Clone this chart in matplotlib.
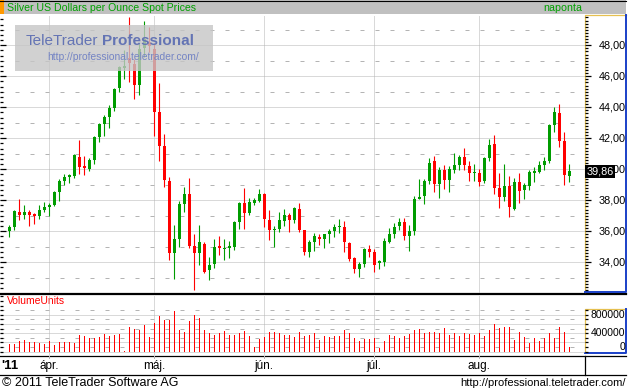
import matplotlib
matplotlib.use("Agg")
import matplotlib.pyplot as plt
import matplotlib.transforms as mtrans
from matplotlib.patches import Rectangle
from matplotlib.ticker import MultipleLocator
import pandas as pd

plt.rcParams["font.family"] = ["Liberation Sans", "DejaVu Sans"]
plt.rcParams["lines.scale_dashes"] = False

# Silver spot, daily candles 22 Mar - 25 Aug 2011
dates = pd.bdate_range("2011-03-22", "2011-08-25")

opens = [36.02, 36.30, 37.25, 37.05, 37.25, 37.07, 36.99, 37.40, 37.59, 37.70,
         38.56, 39.27, 39.53, 39.57, 40.80, 40.22, 40.04, 40.60, 42.09, 42.95,
         43.40, 43.98, 45.25, 46.54, 47.16, 46.80, 45.44, 47.81, 48.20, 47.76,
         43.72, 41.51, 39.25, 34.62, 35.51, 37.76, 38.41, 35.05, 34.62, 35.18,
         33.51, 33.89, 35.01, 34.86, 34.95, 35.01, 36.62, 37.81, 37.20, 37.81,
         37.96, 38.41, 36.73, 36.09, 36.15, 36.69, 37.05, 36.73, 37.44, 36.09,
         34.69, 35.31, 35.66, 35.50, 35.81, 36.00, 36.26, 36.30, 35.23, 34.26,
         33.55, 33.87, 34.84, 34.67, 33.94, 34.04, 35.33, 35.83, 36.34, 36.58,
         35.72, 36.02, 38.11, 38.28, 39.27, 40.54, 39.03, 39.96, 39.31, 39.96,
         40.28, 40.82, 40.22, 39.74, 39.74, 39.25, 40.75, 41.63, 38.82, 38.24,
         38.92, 37.44, 39.20, 38.67, 38.95, 39.78, 39.85, 40.28, 40.54, 42.84,
         43.61, 41.83, 39.59]
highs = [36.41, 37.38, 38.09, 37.70, 37.38, 37.18, 37.70, 37.89, 37.81, 38.62,
         39.35, 39.70, 39.72, 41.01, 41.89, 40.86, 40.73, 42.15, 42.99, 43.51,
         44.17, 45.25, 46.69, 47.70, 49.81, 47.12, 48.13, 49.59, 49.20, 48.13,
         45.57, 42.28, 39.48, 36.41, 37.98, 38.84, 39.44, 35.83, 36.41, 35.33,
         34.37, 35.51, 35.72, 35.51, 35.40, 36.65, 37.91, 38.80, 38.17, 38.17,
         38.73, 38.45, 37.38, 36.34, 37.27, 37.44, 37.20, 37.59, 37.81, 36.09,
         35.45, 35.87, 35.81, 35.85, 36.13, 36.49, 36.77, 36.64, 35.33, 34.34,
         34.02, 34.90, 35.10, 34.84, 34.13, 35.55, 36.24, 36.56, 36.84, 36.88,
         36.41, 38.28, 39.35, 39.35, 40.71, 40.86, 40.13, 40.28, 40.22, 41.08,
         40.92, 41.38, 40.54, 40.34, 40.00, 40.82, 41.94, 42.21, 39.78, 40.34,
         39.57, 39.42, 39.78, 39.10, 39.96, 40.13, 40.56, 40.82, 42.90, 44.04,
         44.22, 42.41, 40.34]
lows = [35.66, 36.09, 36.73, 36.80, 36.37, 36.49, 36.80, 37.25, 36.99, 37.63,
        37.96, 38.99, 39.14, 39.44, 39.70, 39.63, 39.91, 40.34, 41.78, 42.15,
        42.67, 43.78, 45.01, 45.83, 45.61, 44.54, 44.80, 47.23, 47.55, 42.17,
        40.56, 38.88, 34.15, 32.92, 35.01, 37.27, 34.90, 32.22, 33.83, 33.33,
        32.86, 33.66, 34.47, 34.15, 34.30, 34.80, 36.17, 36.17, 37.05, 37.70,
        37.91, 36.26, 35.44, 35.01, 35.98, 36.37, 35.98, 36.52, 35.98, 34.47,
        34.37, 34.73, 35.12, 34.90, 35.23, 35.61, 35.87, 34.67, 34.06, 33.29,
        33.08, 33.72, 34.37, 33.40, 33.55, 33.76, 35.23, 35.55, 36.09, 35.44,
        34.75, 35.76, 38.06, 37.76, 39.05, 38.56, 38.13, 38.71, 38.56, 39.74,
        39.96, 39.96, 39.27, 39.27, 38.95, 39.10, 40.56, 38.39, 37.48, 37.96,
        36.90, 37.38, 37.81, 38.06, 38.67, 39.20, 39.74, 39.96, 40.43, 42.43,
        41.42, 38.99, 39.20]
closes = [36.28, 37.31, 37.05, 37.25, 37.05, 37.01, 37.38, 37.59, 37.72, 38.56,
          39.27, 39.51, 39.61, 40.95, 40.17, 40.09, 40.62, 42.09, 42.95, 43.40,
          43.98, 45.18, 46.62, 46.67, 46.86, 45.44, 47.76, 48.39, 47.95, 43.72,
          41.53, 39.33, 34.62, 35.51, 37.76, 38.41, 35.05, 34.62, 35.29, 33.40,
          33.83, 35.01, 34.95, 34.92, 35.01, 36.58, 37.81, 37.20, 37.91, 38.02,
          38.41, 36.82, 36.09, 36.17, 36.73, 37.05, 36.73, 37.53, 36.11, 34.69,
          35.29, 35.70, 35.48, 35.81, 36.00, 36.30, 36.32, 35.29, 34.19, 33.55,
          33.87, 34.84, 34.67, 33.83, 34.06, 35.38, 35.83, 36.26, 36.60, 35.70,
          36.02, 38.06, 38.22, 39.27, 40.43, 39.03, 39.96, 39.31, 40.02, 40.28,
          40.77, 40.28, 39.74, 39.85, 39.20, 40.75, 41.57, 38.82, 38.24, 38.92,
          37.55, 39.20, 38.62, 38.99, 39.85, 39.85, 40.28, 40.54, 42.84, 43.68,
          41.83, 39.63, 39.86]
volumes = [166000, 166000, 231000, 253000, 209000, 209000, 188000, 166000, 231000, 144000,
           209000, 209000, 209000, 188000, 361000, 339000, 296000, 296000, 318000, 383000,
           339000, 361000, 383000, 22000, 534000, 491000, 469000, 578000, 318000, 621000,
           773000, 686000, 693000, 881000, 469000, 426000, 664000, 794000, 729000, 469000,
           404000, 361000, 404000, 448000, 361000, 361000, 404000, 448000, 339000, 101000,
           274000, 318000, 426000, 426000, 404000, 361000, 361000, 318000, 426000, 339000,
           361000, 404000, 253000, 339000, 318000, 339000, 339000, 469000, 404000, 296000,
           231000, 274000, 274000, 296000, 79000, 231000, 361000, 339000, 296000, 339000,
           383000, 469000, 491000, 404000, 426000, 426000, 404000, 513000, 361000, 404000,
           339000, 404000, 383000, 361000, 404000, 339000, 469000, 599000, 513000, 534000,
           534000, 253000, 426000, 318000, 188000, 296000, 231000, 296000, 404000, 296000,
           534000, 426000, 101000]

month_names = {4: "ápr.", 5: "máj.", 6: "jún.", 7: "júl.", 8: "aug."}
price_labels = [34, 36, 38, 40, 42, 44, 46, 48]
vol_labels = [800000, 400000]

UP = "#009c00"
DOWN = "#ff0000"
GRID = "#b4b4b4"
YELLOW = "#e6c050"
BLUE = "#1a40c8"
DOT = (0, (0.72, 0.72))
DASH = (0, (2.88, 7.92))

W, H = 628, 392
fig = plt.figure(figsize=(W / 100, H / 100), dpi=100)


def px_axes(x0, y0, x1, y1, z=1):
    a = fig.add_axes([x0 / W, 1 - y1 / H, (x1 - x0) / W, (y1 - y0) / H], zorder=z)
    a.patch.set_alpha(0)
    for s in a.spines.values():
        s.set_visible(False)
    return a


# background layer in pixel coords
bg = px_axes(0, 0, W, H, z=0)
bg.set_xlim(0, W)
bg.set_ylim(H, 0)
bg.axis("off")
bg.add_patch(Rectangle((0, 0), 626, 14, facecolor="#c0c0c0", edgecolor="none"))
bg.add_patch(Rectangle((0, 0), 4, 14, facecolor="#ff9900", edgecolor="none"))
bg.plot([0, 626], [0.5, 0.5], color="black", lw=0.8)
bg.text(7, 7.5, "Silver US Dollars per Ounce Spot Prices", color="#00a000",
        fontsize=7.6, va="center", ha="left")
bg.text(582, 7.5, "naponta", color="#00a000", fontsize=7.7, va="center", ha="right")

# panel separators
bg.plot([0, 626], [293.5, 293.5], color="black", lw=1.6)
bg.plot([0, 626], [356, 356], color="black", lw=0.9)
bg.plot([0, 626], [374.5, 374.5], color="black", lw=0.9)
bg.plot([585, 585], [356, 374.5], color="black", lw=0.9)

# axis boxes (yellow top/left, blue right/bottom)
for (x0, y0, x1, y1) in [(585, 15, 626, 292), (585, 309, 626, 353)]:
    bg.plot([x0, x0, x1], [y1, y0, y0], color=YELLOW, lw=0.9)
    bg.plot([x0, x1, x1], [y1, y1, y0], color=BLUE, lw=1.4)

bg.text(2, 383, "© 2011 TeleTrader Software AG", fontsize=9, va="center", ha="left")
bg.text(626, 383, "http://professional.teletrader.com/", fontsize=8, va="center", ha="right")
bg.text(7, 301.5, "VolumeUnits", color="red", fontsize=7.5, va="center", ha="left")
bg.text(1, 366, "'11", fontsize=9.5, fontweight="bold", va="center", ha="left")

idx = list(range(len(dates)))
months = [d.month for d in dates]
month_idx = [i for i in range(1, len(dates)) if months[i] != months[i - 1]]

# main candle panel
ax = px_axes(0, 15, 585, 293, z=2)
ax.set_xlim(-1.86, 115.14)
ax.set_ylim(32.02, 49.955)
for p in range(33, 50):
    ax.axhline(p, color=GRID, lw=0.72, ls=DOT if p % 2 == 0 else DASH, zorder=0)
for i in month_idx:
    ax.axvline(i, color=GRID, lw=0.72, ls=DOT, zorder=0)

cols = [UP if c >= o else DOWN for o, c in zip(opens, closes)]
ax.vlines(idx, lows, highs, colors=cols, linewidth=0.8, zorder=2)
body_lo = [min(o, c) for o, c in zip(opens, closes)]
body_h = [max(abs(c - o), 0.08) for o, c in zip(opens, closes)]
ax.bar(idx, body_h, bottom=body_lo, width=0.6, color=cols, linewidth=0, zorder=3)
ax.yaxis.set_major_locator(MultipleLocator(2))
ax.yaxis.set_minor_locator(MultipleLocator(1 / 3))
ax.tick_params(axis="y", which="major", direction="in", length=4, width=0.9,
               labelleft=False, pad=0)
ax.tick_params(axis="y", which="minor", direction="in", length=2.5, width=0.9)
ax.set_xticks([])

# price scale
pax = px_axes(585, 15, 626, 292, z=3)
pax.set_ylim(32.08, 49.955)
pax.set_xlim(0, 1)
pax.set_xticks([])
pax.yaxis.set_major_locator(MultipleLocator(2))
pax.yaxis.set_minor_locator(MultipleLocator(0.2))
pax.tick_params(axis="y", which="major", direction="in", length=4, width=0.9,
                labelleft=False)
pax.tick_params(axis="y", which="minor", direction="in", length=2.5, width=0.9)
ptrans = mtrans.blended_transform_factory(pax.transAxes, pax.transData)
for p in price_labels:
    pax.text(0.985, p, f"{p:.2f}".replace(".", ","), transform=ptrans,
             ha="right", va="center", fontsize=7.8)
pax.text(0.03, closes[-1], f"{closes[-1]:.2f}".replace(".", ","), transform=ptrans,
         ha="left", va="center", fontsize=7.8, color="white", zorder=5,
         bbox=dict(facecolor="black", edgecolor="none", pad=1.2))

# volume panel
vol = px_axes(0, 296, 585, 355, z=2)
vol.set_xlim(-1.86, 115.14)
vol.set_ylim(-71500, 1207000)
for k in range(0, 10):
    vol.axhline(k * 100000, color=GRID, lw=0.72, ls=DOT if k % 2 == 0 else DASH, zorder=0)
for i in month_idx:
    vol.axvline(i, color=GRID, lw=0.72, ls=DOT, zorder=0)
vol.bar(idx, volumes, width=0.22, color="red", linewidth=0, zorder=2)
vol.yaxis.set_major_locator(MultipleLocator(100000))
vol.tick_params(axis="y", direction="in", length=2.5, width=0.9, labelleft=False)
vol.set_xticks([])

vax = px_axes(585, 309, 626, 353, z=3)
vax.set_ylim(-28200, 925000)
vax.set_xlim(0, 1)
vax.set_xticks([])
vax.yaxis.set_major_locator(MultipleLocator(100000))
vax.tick_params(axis="y", direction="in", length=2.5, width=0.9, labelleft=False)
vtrans = mtrans.blended_transform_factory(vax.transAxes, vax.transData)
for v in vol_labels:
    vax.text(0.985, v, str(v), transform=vtrans, ha="right", va="center", fontsize=7.5)
vax.text(0.985, 0, "0", transform=vtrans, ha="right", va="bottom", fontsize=7.5)

# month labels under the volume panel
dtrans = mtrans.blended_transform_factory(ax.transData, bg.transData)
for i in month_idx:
    bg.plot([i, i], [356, 358], color=GRID, lw=0.72, transform=dtrans)
    bg.text(i, 366, month_names[months[i]], transform=dtrans, ha="center",
            va="center", fontsize=8.5)

# watermark on top
top = px_axes(0, 0, W, H, z=6)
top.set_xlim(0, W)
top.set_ylim(H, 0)
top.axis("off")
top.add_patch(Rectangle((15, 25), 198, 46, facecolor="#c6c6c6", edgecolor="none", alpha=0.8))
top.text(26, 40.5, "TeleTrader", color="#6474b4", fontsize=11, va="center", ha="left")
top.text(102, 40.5, "Professional", color="#6474b4", fontsize=11, fontweight="bold",
         va="center", ha="left")
top.text(47, 57, "http://professional.teletrader.com/", color="#7484c4", fontsize=7.4,
         va="center", ha="left")

fig.savefig("out.png", dpi=100, facecolor="white")
